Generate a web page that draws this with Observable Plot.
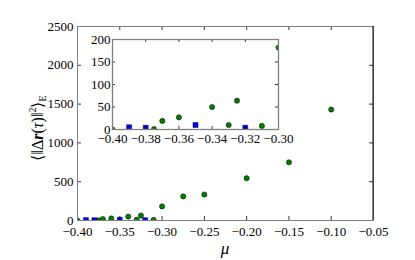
<!DOCTYPE html>
<html>
<head>
<meta charset="utf-8">
<script src="https://cdn.jsdelivr.net/npm/d3@7"></script>
<script src="https://cdn.jsdelivr.net/npm/@observablehq/plot@0.6"></script>
<style>
  body { margin: 0; background: white; }
  #wrap { position: relative; width: 415px; height: 260px; background: white; }
  #wrap svg { position: absolute; left: 0; top: 0; }
</style>
</head>
<body>
<div id="wrap"></div>
<script>
// Data
const greenMu  = [-0.40, -0.375, -0.37, -0.36, -0.34, -0.33, -0.325, -0.31, -0.30, -0.275, -0.25, -0.20, -0.15, -0.10];
const greenVal = [0, 1, 19, 27, 50, 10, 64, 8, 182, 310, 335, 545, 750, 1430];
const blueMu   = [-0.39, -0.38, -0.35, -0.32];
const blueVal  = [5, 4, 10, 4];

const mainXTicks  = [-0.40, -0.35, -0.30, -0.25, -0.20, -0.15, -0.10, -0.05];
const mainYTicks  = [0, 500, 1000, 1500, 2000, 2500];
const insetXTicks = [-0.40, -0.38, -0.36, -0.34, -0.32, -0.30];
const insetYTicks = [0, 50, 100, 150, 200];

const green = greenMu.map((m, i) => ({mu: m, v: greenVal[i]}));
const blue  = blueMu.map((m, i) => ({mu: m, v: blueVal[i]}));

const fmtX = d => d3.format(".2f")(d).replace("-", "\u2212");
const FONT = "'Liberation Serif', serif";
const GREEN = "#008000", BLUE = "#0000ff", SPINE = "#808080";

function panel({width, height, mL, mR, mT, mB, xDom, yDom, xTicks, yTicks, tickLen, xPad, yPad, frameW, bg}) {
  const iw = width - mL - mR, ih = height - mT - mB;
  return Plot.plot({
    width, height,
    marginLeft: mL, marginRight: mR, marginTop: mT, marginBottom: mB,
    style: {fontFamily: FONT, fontSize: "13px", background: bg, color: "black"},
    x: {domain: xDom},
    y: {domain: yDom},
    marks: [
      Plot.frame({fill: "white", stroke: null}),
      Plot.dot(green, {x: "mu", y: "v", r: 2.6, fill: GREEN, stroke: "black", strokeWidth: 0.5, clip: true}),
      Plot.dot(blue, {x: "mu", y: "v", r: 2.8, symbol: "square", fill: BLUE, stroke: "black", strokeWidth: 0.5, clip: true}),
      // inward ticks on all four sides
      Plot.tickX(xTicks, {x: d => d, insetTop: ih - tickLen, stroke: "black", strokeWidth: 0.8}),
      Plot.tickX(xTicks, {x: d => d, insetBottom: ih - tickLen, stroke: "black", strokeWidth: 0.8}),
      Plot.tickY(yTicks, {y: d => d, insetRight: iw - tickLen, stroke: "black", strokeWidth: 0.8}),
      Plot.tickY(yTicks, {y: d => d, insetLeft: iw - tickLen, stroke: "black", strokeWidth: 0.8}),
      Plot.axisX({ticks: xTicks, tickSize: 0, tickPadding: xPad, tickFormat: fmtX, label: null}),
      Plot.axisY({ticks: yTicks, tickSize: 0, tickPadding: yPad, tickFormat: d => String(d), label: null}),
      Plot.frame({stroke: SPINE, strokeWidth: frameW})
    ]
  });
}

const main = panel({
  width: 415, height: 260, mL: 77, mR: 42, mT: 26, mB: 40,
  xDom: [-0.40, -0.05], yDom: [0, 2500],
  xTicks: mainXTicks, yTicks: mainYTicks, tickLen: 4, xPad: 6, yPad: 4, frameW: 1, bg: "white"
});

// black right spine, as in the reference
d3.select(main).append("line")
  .attr("x1", 373).attr("x2", 373).attr("y1", 26).attr("y2", 220)
  .attr("stroke", "black").attr("stroke-width", 1);

// x label
d3.select(main).append("text")
  .attr("x", 225).attr("y", 254)
  .attr("text-anchor", "middle")
  .attr("font-family", FONT).attr("font-size", 17).attr("font-style", "italic")
  .text("\u03bc");

// y label with superscript and subscript
const lbl = d3.select(main).append("text")
  .attr("transform", "translate(43,128) rotate(-90)")
  .attr("text-anchor", "middle")
  .attr("font-family", FONT).attr("font-size", 16);
lbl.append("tspan").text("\u27e8\u2016\u0394");
lbl.append("tspan").attr("font-weight", "bold").attr("font-style", "italic").text("r");
lbl.append("tspan").text("(");
lbl.append("tspan").attr("font-style", "italic").text("\u03c4");
lbl.append("tspan").text(")\u2016");
lbl.append("tspan").attr("font-size", 10).attr("dy", -7).text("2");
lbl.append("tspan").attr("dy", 7).text("\u27e9");
lbl.append("tspan").attr("font-size", 10).attr("dy", 3).text("E");

const inset = panel({
  width: 415, height: 260, mL: 112, mR: 137, mT: 39, mB: 131,
  xDom: [-0.40, -0.30], yDom: [0, 200],
  xTicks: insetXTicks, yTicks: insetYTicks, tickLen: 3, xPad: 4, yPad: 2, frameW: 1.3, bg: "transparent"
});

document.getElementById("wrap").append(main, inset);
</script>
</body>
</html>
